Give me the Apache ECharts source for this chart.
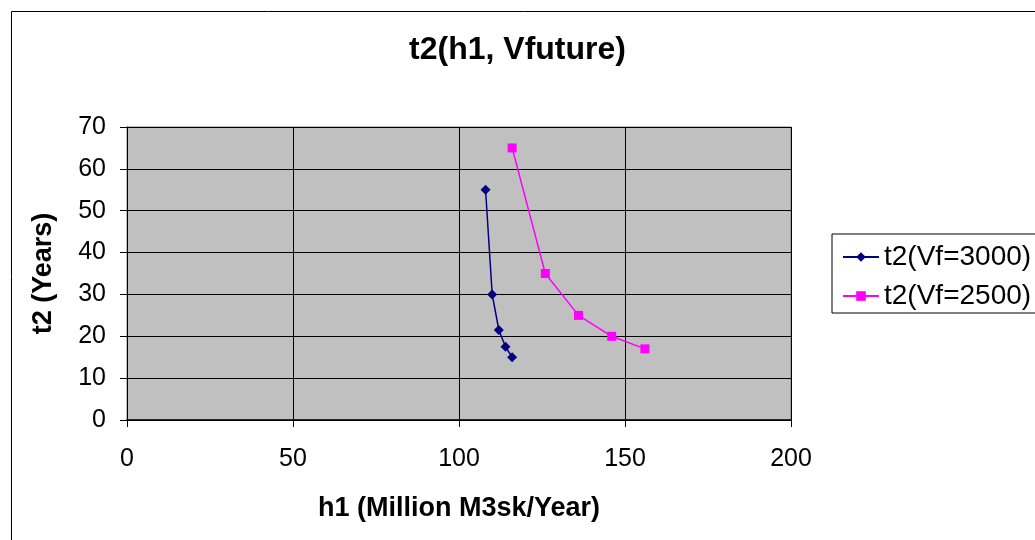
<!DOCTYPE html>
<html>
<head>
<meta charset="utf-8">
<script src="https://cdn.jsdelivr.net/npm/echarts@6/dist/echarts.min.js"></script>
<style>html,body{margin:0;padding:0;background:#fff}#c{width:1035px;height:540px}</style>
</head>
<body>
<div id="c"></div>
<script>
var seriesNames = ['t2(Vf=3000)', 't2(Vf=2500)'];
var h1Vf3000 = [108, 110, 112, 114, 116];
var t2Vf3000 = [55, 30, 21.5, 17.5, 15];
var h1Vf2500 = [116, 126, 136, 146, 156];
var t2Vf2500 = [65, 35, 25, 20, 17];

function pairs(xs, ys) { return xs.map(function (x, i) { return [x, ys[i]]; }); }

var font = '"Liberation Sans", Arial, sans-serif';
var chart = echarts.init(document.getElementById('c'));
chart.setOption({
  backgroundColor: '#fff',
  animation: false,
  graphic: [{
    type: 'rect', left: 9, top: 9, shape: { width: 1040, height: 540 },
    style: { fill: 'none', stroke: '#000', lineWidth: 1 }, silent: true, z: -1
  }],
  title: {
    text: 't2(h1, Vfuture)', left: 'center', top: 34, padding: 0,
    textStyle: { fontFamily: font, fontSize: 32, fontWeight: 'bold', color: '#000' }
  },
  legend: {
    orient: 'vertical', left: 832, top: 234,
    padding: [9, 20, 3, 10], itemGap: 11, itemWidth: 36, itemHeight: 12,
    borderColor: '#000', borderWidth: 1, backgroundColor: '#fff',
    textStyle: { fontFamily: font, fontSize: 28, lineHeight: 27, color: '#000' },
    data: seriesNames
  },
  grid: {
    left: 127, right: 244, top: 127, bottom: 120,
    show: true, backgroundColor: '#C0C0C0', borderColor: '#808080', borderWidth: 1
  },
  xAxis: {
    type: 'value', min: 0, max: 200, interval: 50,
    name: 'h1 (Million M3sk/Year)', nameLocation: 'middle', nameGap: 75,
    nameTextStyle: { fontFamily: font, fontSize: 27, fontWeight: 'bold', color: '#000' },
    axisLine: { show: true, lineStyle: { color: '#000', width: 1.5 } },
    axisTick: { show: true, length: 7, lineStyle: { color: '#000' } },
    axisLabel: { fontFamily: font, fontSize: 25, color: '#000', margin: 27 },
    splitLine: { show: true, lineStyle: { color: '#000', width: 1 } }
  },
  yAxis: {
    type: 'value', min: 0, max: 70, interval: 10,
    name: 't2 (Years)', nameLocation: 'middle', nameGap: 70,
    nameTextStyle: { fontFamily: font, fontSize: 27, fontWeight: 'bold', color: '#000' },
    axisLine: { show: true, lineStyle: { color: '#000', width: 1 } },
    axisTick: { show: true, length: 7, lineStyle: { color: '#000' } },
    axisLabel: { fontFamily: font, fontSize: 25, color: '#000', margin: 21 },
    splitLine: { show: true, lineStyle: { color: '#000', width: 1 } }
  },
  series: [{
    name: seriesNames[0], type: 'line', data: pairs(h1Vf3000, t2Vf3000),
    symbol: 'diamond', symbolSize: 10,
    lineStyle: { color: '#000080', width: 1.5 },
    itemStyle: { color: '#000080' }
  }, {
    name: seriesNames[1], type: 'line', data: pairs(h1Vf2500, t2Vf2500),
    symbol: 'rect', symbolSize: 9,
    lineStyle: { color: '#FF00FF', width: 1.5 },
    itemStyle: { color: '#FF00FF' }
  }]
});
</script>
</body>
</html>
